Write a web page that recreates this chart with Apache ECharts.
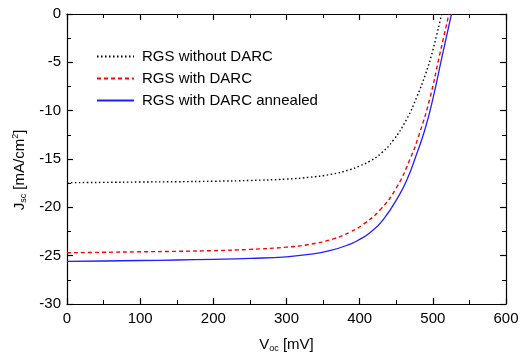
<!DOCTYPE html>
<html><head><meta charset="utf-8">
<script src="https://cdn.jsdelivr.net/npm/echarts@6/dist/echarts.min.js"></script>
<style>html,body{margin:0;padding:0;background:#fff}#c{width:526px;height:358px}</style>
</head><body><div id="c"></div>
<script>
const seriesNames = ['RGS without DARC', 'RGS with DARC', 'RGS with DARC annealed'];
const vNoDarc = [0, 50, 100, 150, 200, 250, 300, 330, 360, 387, 400, 414, 430, 446, 464, 478, 490, 500, 512];
const jNoDarc = [-17.45, -17.42, -17.38, -17.35, -17.3, -17.22, -17.08, -16.9, -16.6, -16.1, -15.72, -15.22, -14.36, -13.06, -10.92, -8.6, -6.22, -3.75, 0];
const vDarc = [0, 50, 100, 150, 200, 250, 300, 330, 364, 387, 405, 428, 450, 468.6, 482, 496, 508.5, 522];
const jDarc = [-24.7, -24.65, -24.6, -24.55, -24.48, -24.35, -24.12, -23.85, -23.26, -22.55, -21.75, -20.26, -18.0, -15.05, -12.3, -8.7, -4.5, 0];
const vAnneal = [0, 50, 100, 150, 200, 250, 300, 330, 359, 387, 400, 414, 432, 455, 466, 475, 489, 500, 512.6, 525.5];
const jAnneal = [-25.6, -25.55, -25.5, -25.45, -25.38, -25.28, -25.12, -24.87, -24.49, -23.8, -23.32, -22.62, -21.3, -18.6, -16.9, -15.1, -12.0, -8.8, -4.4, 0];
const xTicks = [0, 100, 200, 300, 400, 500, 600];
const yTicks = [-30, -25, -20, -15, -10, -5, 0];

const pairs = (v, j) => v.map((x, i) => [x, j[i]]);
const font = 'Liberation Sans, Arial, sans-serif';
const chart = echarts.init(document.getElementById('c'));
const baseAxis = {
  axisLine: { show: true, onZero: false, lineStyle: { color: '#000', width: 1.2 } },
  axisTick: { show: true, inside: true, length: 6, lineStyle: { color: '#000', width: 1.2 } },
  minorTick: { show: true, splitNumber: 2, length: 4, lineStyle: { color: '#000', width: 1 } },
  splitLine: { show: false }
};
chart.setOption({
  animation: false,
  backgroundColor: '#fff',
  grid: { left: 67, right: 20, top: 14, bottom: 53 },
  legend: {
    left: 96, top: 49, padding: 0, orient: 'vertical', itemGap: 7, itemWidth: 37, itemHeight: 14,
    itemStyle: { opacity: 0 },
    textStyle: { fontFamily: font, fontSize: 15, color: '#000', padding: [0, 0, 0, 3] },
    data: seriesNames
  },
  xAxis: [
    Object.assign({}, baseAxis, {
      type: 'value', min: xTicks[0], max: xTicks[xTicks.length - 1], interval: 100, position: 'bottom',
      axisLabel: { fontFamily: font, fontSize: 15, color: '#000', margin: 7 },
      name: '{v|V}{s|oc}{v| [mV]}', nameLocation: 'middle', nameGap: 33,
      nameTextStyle: { rich: { v: { fontFamily: font, fontSize: 15, color: '#000' }, s: { fontFamily: font, fontSize: 9, color: '#000', verticalAlign: 'bottom', padding: [7, 0, 0, 0] } } }
    }),
    Object.assign({}, baseAxis, {
      type: 'value', min: 0, max: 600, interval: 100, position: 'top',
      axisLabel: { show: false }
    })
  ],
  yAxis: [
    Object.assign({}, baseAxis, {
      type: 'value', min: yTicks[0], max: yTicks[yTicks.length - 1], interval: 5, position: 'left',
      axisLabel: { fontFamily: font, fontSize: 15, color: '#000', margin: 6 },
      name: '{v|J}{s|sc}{v| [mA/cm}{p|2}{v|]}', nameLocation: 'middle', nameGap: 37, nameRotate: 90,
      nameTextStyle: { padding: [0, 22, 0, 0], rich: {
        v: { fontFamily: font, fontSize: 15, color: '#000' },
        s: { fontFamily: font, fontSize: 9, color: '#000', padding: [8, 0, 0, 0] },
        p: { fontFamily: font, fontSize: 9, color: '#000', padding: [0, 0, 9, 0] }
      } }
    }),
    Object.assign({}, baseAxis, {
      type: 'value', min: -30, max: 0, interval: 5, position: 'right',
      axisLabel: { show: false }
    })
  ],
  series: [
    { name: seriesNames[0], type: 'line', data: pairs(vNoDarc, jNoDarc), smooth: 0.5, showSymbol: false, symbol: 'none',
      color: '#000', lineStyle: { color: '#000', width: 1.4, type: [1.5, 2.5] } },
    { name: seriesNames[1], type: 'line', data: pairs(vDarc, jDarc), smooth: 0.5, showSymbol: false, symbol: 'none',
      color: '#ff0000', lineStyle: { color: '#ff0000', width: 1.4, type: [4, 3] } },
    { name: seriesNames[2], type: 'line', data: pairs(vAnneal, jAnneal), smooth: 0.5, showSymbol: false, symbol: 'none',
      color: '#1f1fff', lineStyle: { color: '#1f1fff', width: 1.3 } }
  ]
});
</script></body></html>
